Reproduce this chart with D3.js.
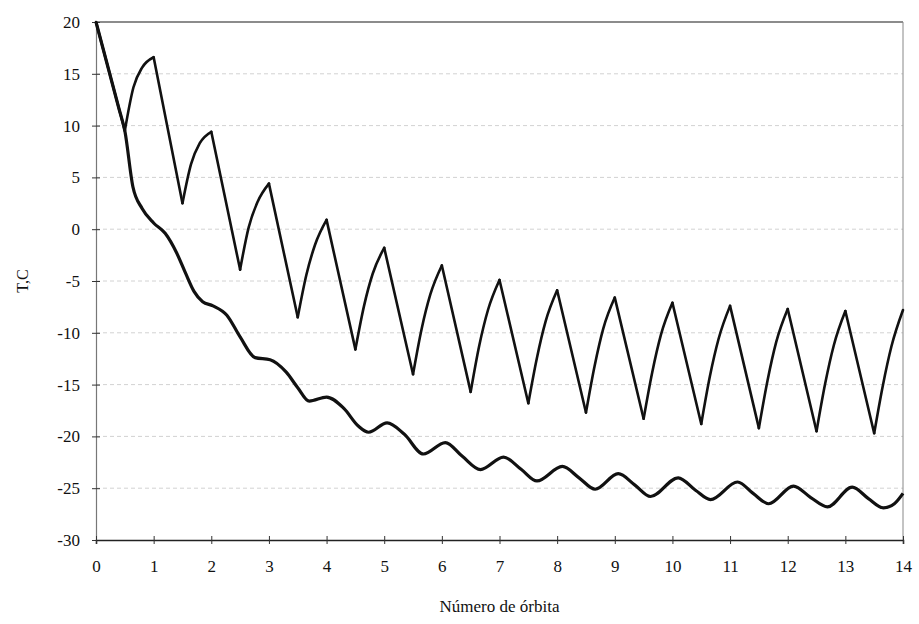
<!DOCTYPE html>
<html>
<head>
<meta charset="utf-8">
<script src="https://cdnjs.cloudflare.com/ajax/libs/d3/7.8.5/d3.min.js"></script>
<style>
  body { margin: 0; background: #fff; }
  svg text { font-family: "Liberation Serif", "Times New Roman", serif; fill: #111; }
</style>
</head>
<body>
<script>
// orbit number (x) and temperature (y) of the two curves
var sawX = [0, 0.5, 0.65, 0.8, 1, 1.5, 1.65, 1.8, 2, 2.5, 2.65, 2.8, 3, 3.5, 3.65, 3.8, 4,
  4.5, 4.65, 4.8, 5, 5.5, 5.65, 5.8, 6, 6.5, 6.65, 6.8, 7, 7.5, 7.65, 7.8, 8,
  8.5, 8.65, 8.8, 9, 9.5, 9.65, 9.8, 10, 10.5, 10.65, 10.8, 11, 11.5, 11.65, 11.8, 12,
  12.5, 12.65, 12.8, 13, 13.5, 13.65, 13.8, 14];
var sawT = [20, 9.5, 13.7, 15.6, 16.6, 2.5, 6.3, 8.3, 9.4, -3.9, 0.2, 2.6, 4.4, -8.5, -4.4, -1.5, 0.9,
  -11.6, -7.4, -4.3, -1.8, -14.0, -9.6, -6.3, -3.5, -15.7, -11.2, -7.8, -4.9, -16.8, -12.4, -8.9, -5.9,
  -17.7, -13.2, -9.6, -6.6, -18.3, -13.8, -10.2, -7.1, -18.8, -14.2, -10.6, -7.4, -19.2, -14.6, -10.9, -7.7,
  -19.5, -14.9, -11.2, -7.9, -19.7, -15.1, -11.3, -7.8];

var lowX = [0, 0.2, 0.4, 0.5, 0.64, 0.8, 1.0, 1.2, 1.4, 1.55, 1.7, 1.85, 2.03, 2.27, 2.5, 2.76, 3.02, 3.3, 3.5, 3.7, 4.0,
  4.3, 4.55, 4.73, 5.05, 5.35, 5.68, 6.06, 6.35, 6.67, 7.07, 7.38, 7.65, 8.09, 8.38, 8.66, 9.06, 9.35, 9.62,
  10.1, 10.4, 10.66, 11.13, 11.4, 11.67, 12.1, 12.4, 12.69, 13.12, 13.4, 13.66, 13.85, 14];
var lowT = [20, 15.8, 11.6, 9.5, 4.1, 2.0, 0.6, -0.4, -2.3, -4.2, -6.0, -7.0, -7.4, -8.3, -10.4, -12.4, -12.6, -13.8, -15.3, -16.6, -16.2,
  -17.3, -19.0, -19.6, -18.7, -19.8, -21.7, -20.6, -21.9, -23.2, -22.0, -23.2, -24.3, -22.9, -24.0, -25.1, -23.6, -24.7, -25.8,
  -24.0, -25.2, -26.1, -24.4, -25.5, -26.5, -24.8, -25.9, -26.8, -24.9, -26.0, -26.9, -26.5, -25.5];

var xTicks = d3.range(0, 15);
var yTicks = [20, 15, 10, 5, 0, -5, -10, -15, -20, -25, -30];
var gridTicks = [15, 10, 5, 0, -5, -10, -15, -20, -25];

var width = 919, height = 624;
var plotL = 96, plotR = 903, plotT = 22, plotB = 540;

var svg = d3.select("body").append("svg")
    .attr("width", width)
    .attr("height", height);

var x = d3.scaleLinear().domain([0, 14]).range([plotL, plotR]);
var y = d3.scaleLinear().domain([-30, 20]).range([plotB, plotT]);

// faint dotted grid
svg.append("g")
    .selectAll("line")
    .data(gridTicks)
    .enter().append("line")
    .attr("x1", plotL).attr("x2", plotR)
    .attr("y1", d => y(d)).attr("y2", d => y(d))
    .attr("stroke", "#d2d2d2")
    .attr("stroke-width", 1)
    .attr("stroke-dasharray", "4,3");

// frame: top and right lines, left and bottom are the axes
svg.append("line").attr("x1", plotL).attr("x2", plotR).attr("y1", plotT).attr("y2", plotT)
    .attr("stroke", "#666").attr("stroke-width", 1.3);
svg.append("line").attr("x1", plotR).attr("x2", plotR).attr("y1", plotT).attr("y2", plotB)
    .attr("stroke", "#888").attr("stroke-width", 1);

var yAxis = svg.append("g")
    .attr("transform", "translate(" + plotL + ",0)")
    .call(d3.axisLeft(y).tickValues(yTicks).tickSize(4).tickPadding(12).tickFormat(d => String(d)));
yAxis.select(".domain").attr("stroke", "#777").attr("stroke-width", 1.2);
yAxis.selectAll(".tick line").attr("x2", 4).attr("x1", -4).attr("stroke", "#333");
yAxis.selectAll("text").style("font-size", "17px").attr("fill", "#111");

var xAxis = svg.append("g")
    .attr("transform", "translate(0," + plotB + ")")
    .call(d3.axisBottom(x).tickValues(xTicks).tickSize(4).tickPadding(16).tickFormat(d => String(d)));
xAxis.select(".domain").attr("stroke", "#222").attr("stroke-width", 1.6);
xAxis.selectAll(".tick line").attr("y1", -4).attr("y2", 4).attr("stroke", "#333");
xAxis.selectAll("text").style("font-size", "17px").attr("fill", "#111");

// axis titles
svg.append("text")
    .attr("x", (plotL + plotR) / 2)
    .attr("y", 612)
    .attr("text-anchor", "middle")
    .style("font-size", "17px")
    .text("Número de órbita");

svg.append("text")
    .attr("transform", "translate(28," + y(-5) + ") rotate(-90)")
    .attr("text-anchor", "middle")
    .style("font-size", "16px")
    .text("T,C");

// lower (smooth) curve
var lowLine = d3.line()
    .x((d, i) => x(lowX[i]))
    .y(d => y(d))
    .curve(d3.curveMonotoneX);

svg.append("path")
    .datum(lowT)
    .attr("d", lowLine)
    .attr("fill", "none")
    .attr("stroke", "#111")
    .attr("stroke-width", 3.2);

// sawtooth: split into falling/rising runs so peaks stay sharp
var sawPts = sawX.map((v, i) => [v, sawT[i]]);
var runs = [];
var run = [sawPts[0]];
for (var i = 1; i < sawPts.length; i++) {
    run.push(sawPts[i]);
    var next = sawPts[i + 1];
    if (next && Math.sign(next[1] - sawPts[i][1]) !== Math.sign(sawPts[i][1] - sawPts[i - 1][1])) {
        runs.push(run);
        run = [sawPts[i]];
    }
}
runs.push(run);

var sawLine = d3.line()
    .x(d => x(d[0]))
    .y(d => y(d[1]))
    .curve(d3.curveMonotoneX);

svg.append("g")
    .selectAll("path")
    .data(runs)
    .enter().append("path")
    .attr("d", sawLine)
    .attr("fill", "none")
    .attr("stroke", "#111")
    .attr("stroke-width", 2.6)
    .attr("stroke-linecap", "round");
</script>
</body>
</html>
